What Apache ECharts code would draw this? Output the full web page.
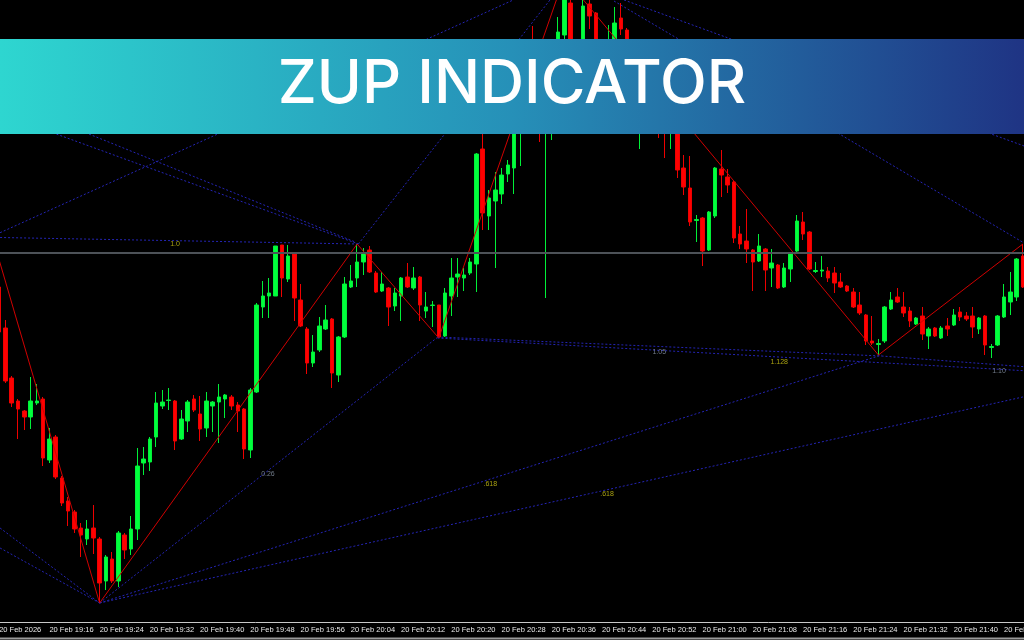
<!DOCTYPE html>
<html>
<head>
<meta charset="utf-8">
<title>ZUP Indicator</title>
<script src="https://cdn.jsdelivr.net/npm/echarts@6.0.0/dist/echarts.min.js"></script>
<style>
  html, body { margin: 0; padding: 0; background: #000; }
  #chart { width: 1024px; height: 640px; }
</style>
</head>
<body>
<div id="chart"></div>
<script>
// M1 bars from 20 Feb 19:08, price in points
const opens = [713, 672, 622, 599, 589, 583, 597, 601, 540, 563,
  522, 499, 488, 472, 461, 472, 461, 419, 441, 419,
  465, 451, 471, 537, 538, 563, 594, 599.5, 599, 561,
  579, 601, 586, 572, 594, 598, 601, 603, 595, 591,
  550, 608, 693, 704, 704, 755, 721, 746, 700, 671,
  637, 650, 671, 681, 625, 663, 713, 722, 738, 750,
  727, 709, 712, 694, 704, 723, 712, 723, 689, 694.5,
  695, 664, 704, 723, 722, 727, 736, 851, 784, 799,
  806, 826, 832, 870, 900, 940, 905, 875, 900, 930,
  965, 997, 925, 940, 996, 987, 940, 905, 930, 982,
  970, 930, 890, 920, 890, 915, 890, 875, 900, 832,
  812, 779.5, 782, 750, 784, 831, 823, 818, 766, 759,
  750, 739, 751, 732, 735, 713, 731, 749, 778, 768,
  728.5, 729, 729, 727, 718, 714, 708, 695, 685, 659,
  655.5, 659, 691, 703, 693, 689, 676, 684, 664, 672,
  662, 674, 675, 688, 684, 684, 671, 684, 652.5, 655,
  683, 698, 703, 744]
const closes = [668, 619, 597, 591, 583, 599, 599, 542, 561, 523,
  497, 489, 471, 465, 471, 462, 417, 443, 419, 467,
  450, 471, 534, 541, 561, 597, 598, 600, 559, 581,
  598, 590, 571, 599, 598, 603, 605, 594, 589, 551,
  610, 695, 704, 707, 754, 722, 744, 702, 674, 637,
  648, 674, 680, 627, 663, 716, 719, 738, 747, 728,
  708, 716, 693, 707, 722, 713, 722, 695, 693, 695,
  663, 707, 722, 726, 725, 738, 846, 787, 802, 810,
  825, 835, 880, 900, 885, 900, 875, 930, 945, 968,
  1010, 925, 900, 994, 984, 940, 910, 950, 977, 971,
  930, 905, 920, 900, 915, 885, 875, 900, 830, 813,
  778, 780.5, 749, 788, 832, 825, 815, 762, 756, 751,
  738, 754, 730, 737, 712, 732, 747, 779, 766, 731,
  729.5, 730, 722, 717, 713, 709, 693, 687, 659, 657,
  656.5, 693, 700, 698, 687, 679, 682, 666, 671, 664,
  672, 671, 685, 683, 681, 673, 682, 655, 653.5, 684,
  703, 708, 741, 713]
const lows = [665, 617, 593, 561, 570, 571, 595, 534, 537, 521,
  494, 474, 467, 443, 455, 446, 397, 410, 417, 413,
  441, 445, 460, 525, 529, 553, 591, 590, 550, 560,
  568, 588, 559, 563, 568, 557, 582, 590, 568, 541,
  542, 607, 682, 682, 704, 703, 718, 679, 673, 626,
  633, 648, 670, 612, 618, 662, 712, 713, 725, 727,
  707, 708, 674, 689, 679, 712, 710, 679, 682, 673,
  662, 663, 684, 703, 709, 725, 708, 770, 770, 732,
  796, 818, 806, 834, 875, 890, 858, 702, 860, 910,
  950, 915, 890, 930, 971, 930, 900, 890, 920, 965,
  920, 890, 851, 885, 880, 862, 842, 851, 822, 805,
  774, 758, 734, 749, 782, 803, 807, 757, 751, 737,
  709, 738, 709, 713, 711, 712, 718, 746, 760, 730,
  727, 723, 718, 707, 712, 708, 692, 685, 655, 655,
  645, 657, 690, 697, 683, 673, 675, 660, 651, 663,
  661, 664, 674, 679, 679, 662, 666, 645, 642, 654,
  682, 685, 699, 712]
const highs = [717, 680, 624, 601, 590, 623, 616, 603, 572, 565,
  524, 503, 490, 477, 480, 495, 463, 445, 448, 469,
  467, 484, 552, 553, 563, 608, 610, 612, 600, 590,
  600, 605, 604, 608, 599, 616, 606, 605, 598, 592,
  612, 697, 719, 722, 754, 755, 755, 748, 716, 673,
  665, 683, 695, 682, 664, 723, 735, 756, 752, 754,
  729, 728, 713, 712, 723, 737, 733, 724, 708, 699,
  695, 712, 742, 742, 732, 742, 847, 880, 810, 828,
  832, 840, 888, 910, 915, 974, 920, 945, 955, 983,
  1023, 1005, 940, 1002, 1000, 988, 950, 975, 993, 997,
  972, 940, 930, 930, 925, 925, 900, 910, 905, 845,
  844, 785, 783, 789, 833, 850, 831, 819, 774, 791,
  751, 766, 752, 751, 736, 737, 748, 785, 788, 769,
  738, 744, 733, 733, 727, 715, 712, 708, 686, 684,
  661, 694, 708, 712, 708, 693, 683, 693, 673, 673,
  674, 682, 691, 693, 688, 693, 683, 685, 656, 685,
  716, 728, 742, 756]

const tickLabels = ['20 Feb 2026', '20 Feb 19:16', '20 Feb 19:24', '20 Feb 19:32', '20 Feb 19:40',
  '20 Feb 19:48', '20 Feb 19:56', '20 Feb 20:04', '20 Feb 20:12', '20 Feb 20:20', '20 Feb 20:28',
  '20 Feb 20:36', '20 Feb 20:44', '20 Feb 20:52', '20 Feb 21:00', '20 Feb 21:08', '20 Feb 21:16',
  '20 Feb 21:24', '20 Feb 21:32', '20 Feb 21:40', '20 Feb 21:48']

// zigzag pivots [bar, price]
const zigzag = [[0, 740], [16, 397], [57, 756], [70, 662], [90, 1023], [140, 645], [163, 756]]

// fibo fan / level lines [bar1, price1, bar2, price2]
const fanLines = [
  [0.15, 762.5, 57.2, 756],
  [0.15, 767.3, 81.85, 1000],
  [0.15, 886.4, 57.2, 756],
  [0.15, 902, 56.7, 758],
  [57.2, 756, 87.7, 1000],
  [97.9, 999, 163.2, 757],
  [99.5, 1000, 163.2, 854],
  [16, 397, 69.8, 662.7],
  [16, 397, 140.5, 645],
  [16, 397, 163.2, 603.3],
  [69.8, 663, 140.5, 644],
  [140.5, 644, 163.2, 633.3],
  [69.8, 662, 163.2, 629.3],
  [0.15, 472, 16, 397],
  [0.15, 452, 16, 397]
]

// level captions
const fibTexts = ['1.0', '0.26', '.618', '.618', '1.05', '1.128', '1.10']
const fibBars = [28, 42.8, 78.2, 96.8, 105.1, 124.2, 159.2]
const fibPrices = [756, 526, 516, 506, 648, 638, 629]

const bidPrice = 747.5

const startMinute = 19 * 60 + 8
const pad = n => (n < 10 ? '0' : '') + n
const times = opens.map((_, i) => {
  const m = startMinute + i
  return pad(Math.floor(m / 60)) + ':' + pad(m % 60)
})

const candles = opens.map((o, i) => [o, closes[i], lows[i], highs[i]])

const yellowLevels = ['1.0', '.618', '1.128']

const chart = echarts.init(document.getElementById('chart'))

const series = [{
  name: 'price',
  type: 'candlestick',
  barWidth: 4,
  data: candles,
  itemStyle: {
    color: '#00ff3c',
    color0: '#ff0000',
    borderColor: '#00f038',
    borderColor0: '#ee0000',
    borderWidth: 1
  },
  markLine: {
    silent: true,
    symbol: ['none', 'none'],
    label: { show: false },
    lineStyle: { color: '#4d5258', width: 2, type: 'solid' },
    data: [{ yAxis: bidPrice }]
  }
}]

fanLines.forEach((l, k) => {
  series.push({
    name: 'fan' + k,
    type: 'line',
    xAxisIndex: 1,
    symbol: 'none',
    silent: true,
    data: [[l[0], l[1]], [l[2], l[3]]],
    lineStyle: { color: '#2424b4', width: 1, type: [2, 2] }
  })
})

series.push({
  name: 'zigzag',
  type: 'line',
  xAxisIndex: 1,
  symbol: 'none',
  silent: true,
  data: zigzag,
  lineStyle: { color: '#d00000', width: 1 },
  z: 3
})

series.push({
  name: 'levels',
  type: 'scatter',
  xAxisIndex: 1,
  symbolSize: 1,
  silent: true,
  itemStyle: { color: 'transparent' },
  data: fibTexts.map((t, i) => ({
    name: t,
    value: [fibBars[i], fibPrices[i]],
    label: { color: yellowLevels.indexOf(t) >= 0 ? '#d2c814' : '#8c98aa' }
  })),
  label: {
    show: true,
    position: 'inside',
    formatter: '{b}',
    fontFamily: 'Liberation Sans',
    fontSize: 7
  },
  z: 4
})

chart.setOption({
  animation: false,
  backgroundColor: '#000000',
  grid: { left: -4, right: -2, top: 0, bottom: 18, containLabel: false, outerBoundsMode: 'none' },
  xAxis: [{
    type: 'category',
    data: times,
    boundaryGap: true,
    axisLine: { lineStyle: { color: '#c8c8c8', width: 1 } },
    axisTick: { interval: 7, alignWithLabel: true, length: 3, lineStyle: { color: '#c8c8c8' } },
    axisLabel: {
      interval: 7,
      align: 'left',
      margin: 4,
      color: '#e8e8e8',
      fontFamily: 'Liberation Sans',
      fontSize: 7.5,
      hideOverlap: false,
      formatter: (val, idx) => tickLabels[Math.round(idx / 8)] || ''
    },
    splitLine: { show: false }
  }, {
    type: 'value',
    show: false,
    min: -0.5,
    max: 163.5
  }],
  yAxis: {
    type: 'value',
    min: 378,
    max: 1000,
    show: false,
    splitLine: { show: false }
  },
  graphic: [{
    type: 'rect',
    left: 0,
    top: 39,
    z: 100,
    shape: { width: 1024, height: 95 },
    style: {
      fill: new echarts.graphic.LinearGradient(0, 0, 1, 0, [
        { offset: 0, color: '#2ed6d0' },
        { offset: 0.5, color: '#2690b8' },
        { offset: 1, color: '#1f3484' }
      ])
    }
  }, {
    type: 'text',
    x: 512,
    y: 85,
    z: 101,
    style: {
      text: 'ZUP INDICATOR',
      fill: '#ffffff',
      font: '500 61px Inter',
      textAlign: 'center',
      textVerticalAlign: 'middle'
    }
  }, {
    type: 'line',
    z: 100,
    shape: { x1: 0, y1: 638.5, x2: 1024, y2: 638.5 },
    style: { stroke: '#9a9a9a', lineWidth: 2 }
  }],
  series: series
})
</script>
</body>
</html>
